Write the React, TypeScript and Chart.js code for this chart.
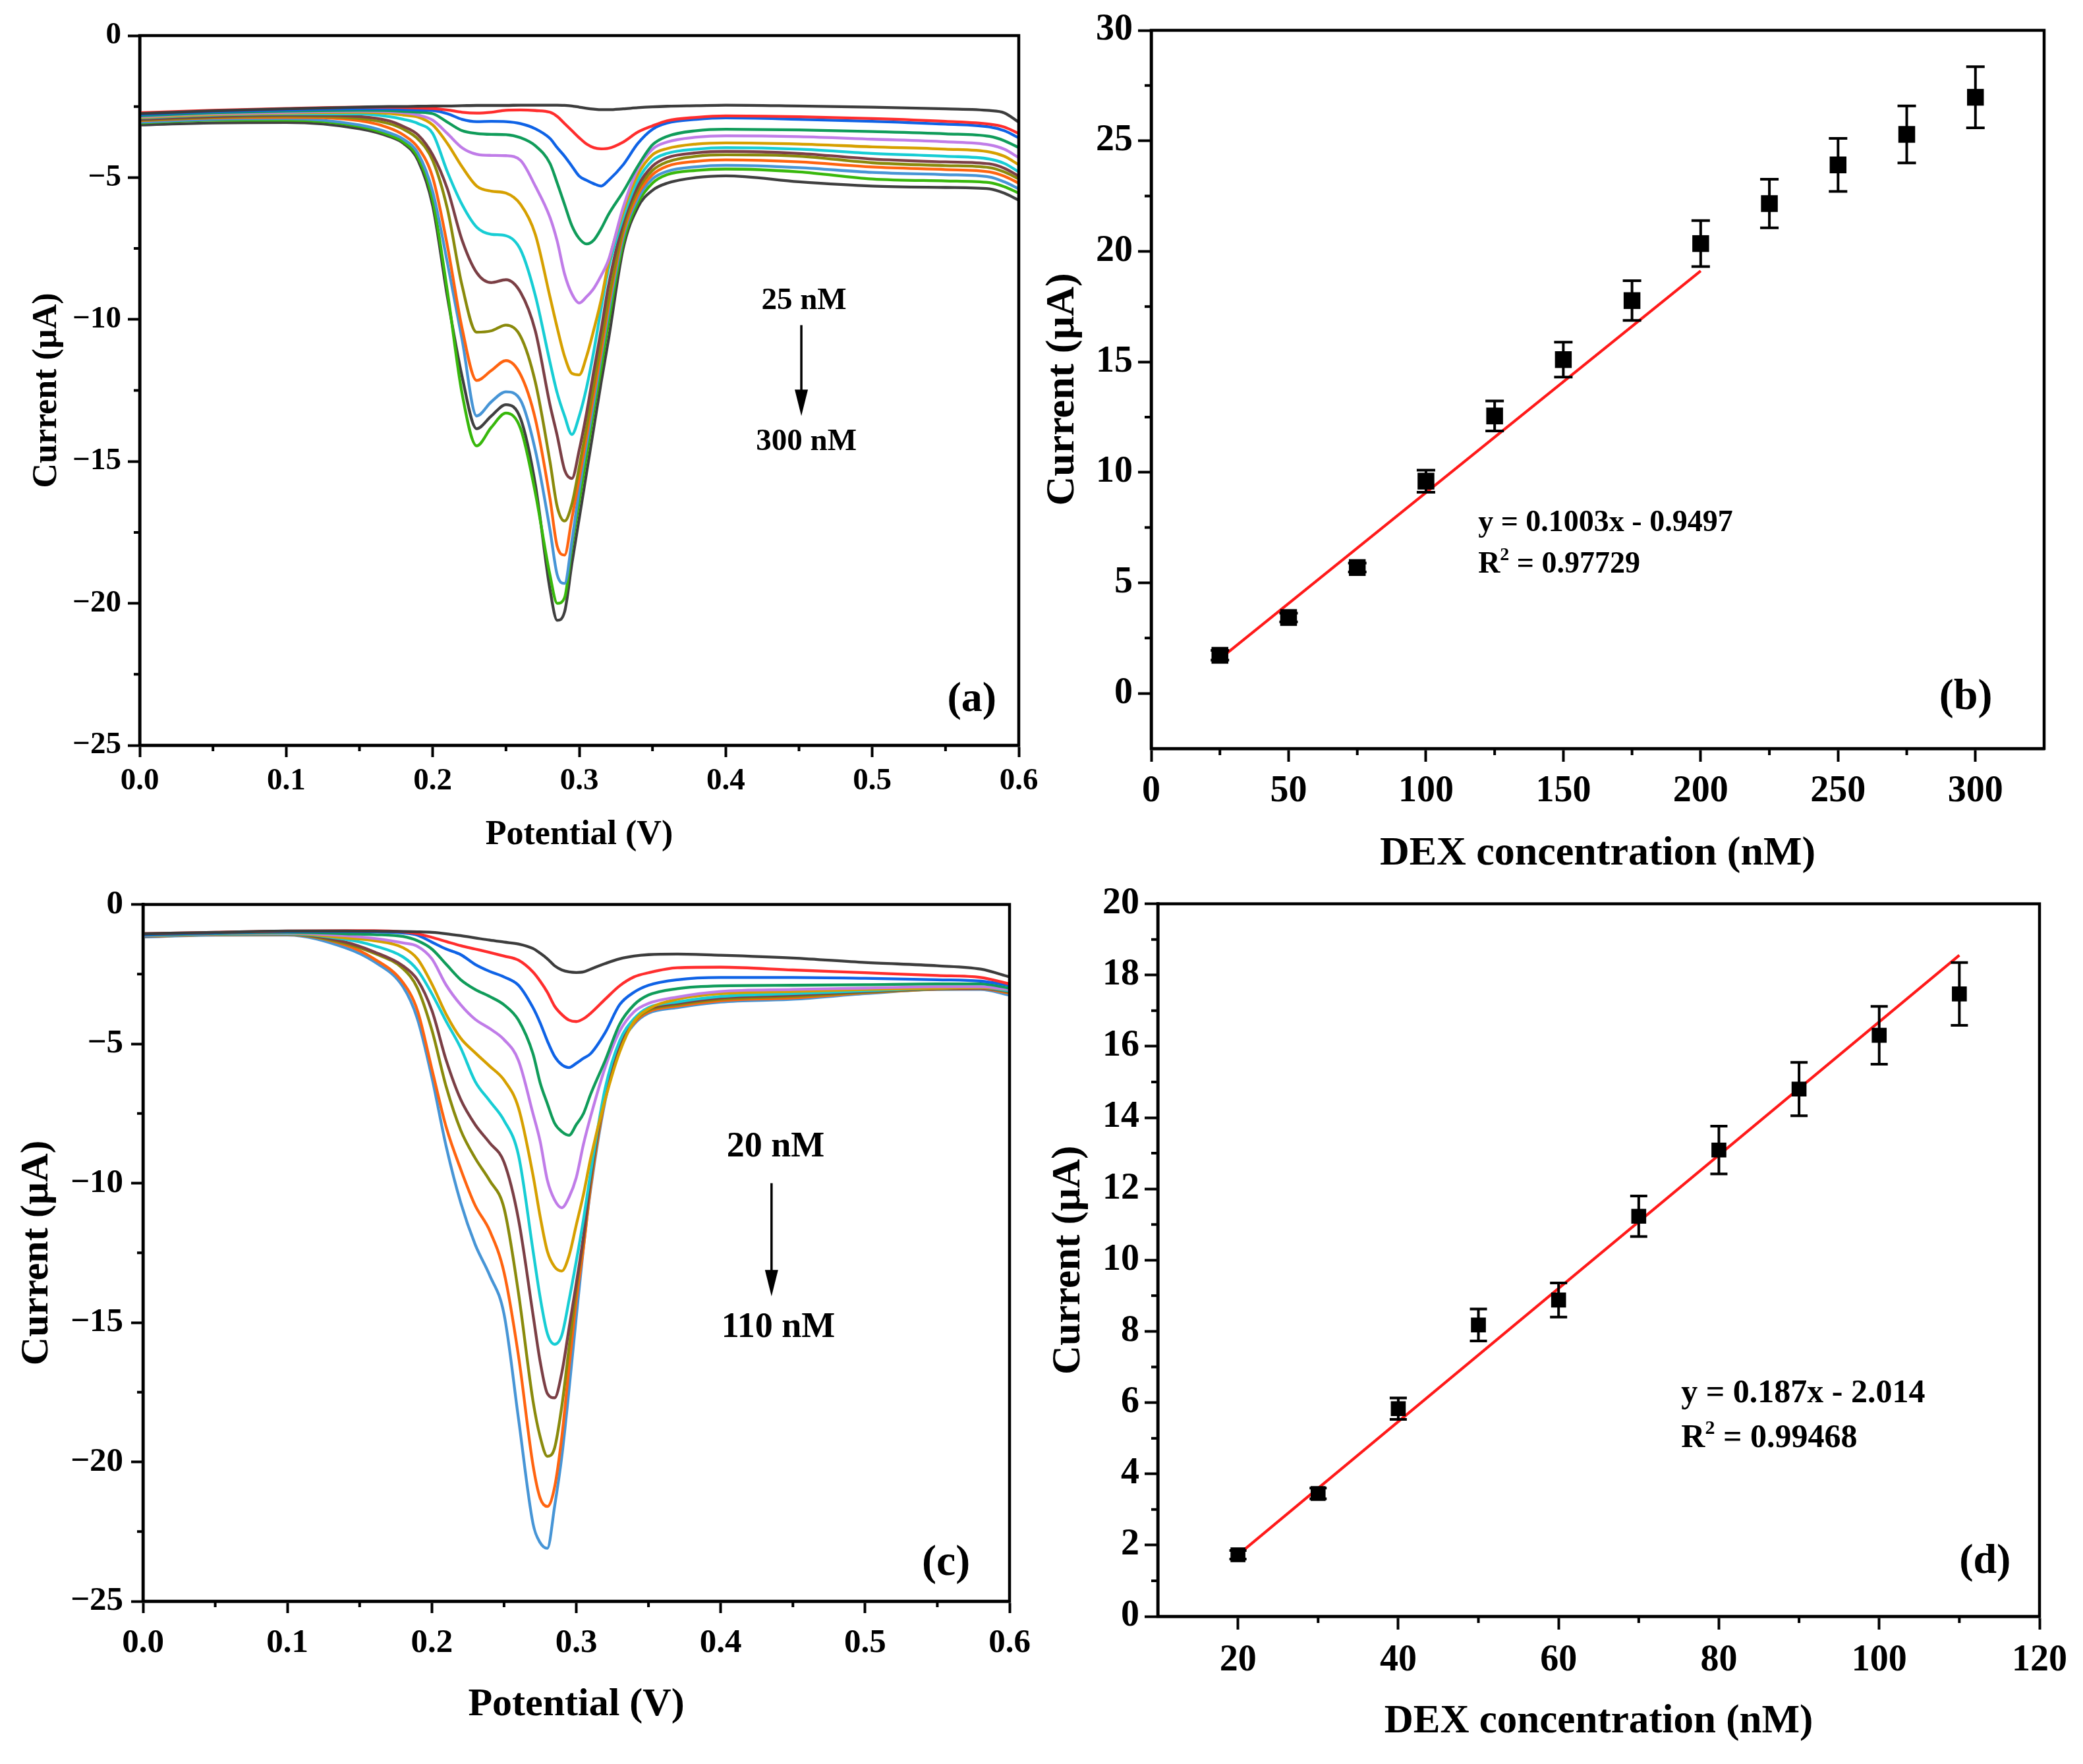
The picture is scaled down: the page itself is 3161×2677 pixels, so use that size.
import { useEffect, useRef } from 'react';
import { Chart, ChartConfiguration, registerables } from 'chart.js';

Chart.register(...registerables);

const SERIF = "'Liberation Serif', 'Times New Roman', Times, serif";

// ---------- (a) DPV curves, 25 -> 300 nM ----------
const A_POTENTIAL = [
  0, 0.05, 0.1, 0.15, 0.17, 0.18, 0.19, 0.2,
  0.21, 0.22, 0.23, 0.24, 0.25, 0.26, 0.27, 0.28,
  0.285, 0.29, 0.295, 0.3, 0.305, 0.31, 0.315, 0.32,
  0.33, 0.34, 0.35, 0.36, 0.38, 0.4,
  0.45, 0.5, 0.55, 0.58, 0.59, 0.6,
];
const A_BLANK = [
  -2.75, -2.65, -2.58, -2.52, -2.5, -2.5, -2.49, -2.48,
  -2.48, -2.47, -2.46, -2.46, -2.46, -2.45, -2.45, -2.45,
  -2.45, -2.46, -2.48, -2.52, -2.56, -2.59, -2.61, -2.61,
  -2.58, -2.54, -2.51, -2.49, -2.47, -2.45,
  -2.48, -2.52, -2.58, -2.64, -2.72, -3.05,
];
const A_25NM = [
  -2.72, -2.63, -2.57, -2.52, -2.52, -2.53, -2.55, -2.57,
  -2.62, -2.7, -2.73, -2.7, -2.63, -2.62, -2.64, -2.7,
  -2.85, -3.1, -3.35, -3.6, -3.82, -3.95, -3.99, -3.97,
  -3.75, -3.4, -3.18, -3.0, -2.88, -2.83,
  -2.86, -2.92, -3.02, -3.12, -3.22, -3.45,
];
const A_50NM = [
  -2.78, -2.68, -2.62, -2.58, -2.58, -2.6, -2.62, -2.64,
  -2.75, -2.95, -3.03, -3.02, -3.03, -3.1, -3.28, -3.62,
  -3.95, -4.25, -4.6, -4.95, -5.1, -5.22, -5.3, -5.1,
  -4.55, -3.8, -3.3, -3.08, -2.95, -2.9,
  -2.95, -3.02, -3.12, -3.22, -3.35, -3.6,
];
const A_75NM = [
  -2.82, -2.72, -2.66, -2.63, -2.64, -2.67, -2.7, -2.75,
  -3.05, -3.35, -3.45, -3.48, -3.49, -3.6, -3.88, -4.5,
  -5.2, -5.95, -6.7, -7.15, -7.34, -7.2, -6.8, -6.3,
  -5.5, -4.6, -3.85, -3.55, -3.35, -3.3,
  -3.32, -3.38, -3.46, -3.55, -3.7, -3.95,
];
const A_100NM = [
  -2.85, -2.75, -2.7, -2.66, -2.68, -2.72, -2.8, -2.98,
  -3.45, -3.95, -4.18, -4.22, -4.23, -4.4, -5.3, -6.4,
  -7.25, -8.4, -9.1, -9.42, -9.2, -8.9, -8.45, -7.9,
  -6.05, -4.7, -4.0, -3.75, -3.58, -3.53,
  -3.56, -3.65, -3.74, -3.85, -4.0, -4.3,
];
const A_125NM = [
  -2.88, -2.78, -2.73, -2.7, -2.74, -2.8, -2.87, -3.15,
  -3.8, -4.62, -5.3, -5.48, -5.55, -5.95, -7.0, -9.2,
  -10.3, -11.3, -11.9, -11.95, -11.3, -10.35, -9.3, -8.0,
  -6.2, -4.9, -4.2, -3.98, -3.82, -3.78,
  -3.82, -3.92, -4.0, -4.1, -4.25, -4.55,
];
const A_150NM = [
  -2.9, -2.8, -2.76, -2.76, -2.85, -2.95, -3.1, -3.45,
  -4.8, -5.95, -6.75, -7.0, -7.05, -7.55, -9.15, -11.5,
  -12.6, -13.4, -14.05, -13.4, -12.4, -11.1, -9.6, -8.2,
  -6.4, -5.1, -4.4, -4.15, -4.0, -3.95,
  -4.0, -4.15, -4.25, -4.35, -4.5, -4.8,
];
const A_175NM = [
  -2.95, -2.85, -2.8, -2.85, -3.0, -3.2, -3.5, -4.2,
  -5.4, -7.2, -8.35, -8.7, -8.6, -9.05, -10.4, -13.0,
  -14.1, -15.3, -15.6, -14.6, -13.3, -11.8, -10.35, -8.8,
  -6.6, -5.3, -4.6, -4.3, -4.13, -4.08,
  -4.15, -4.35, -4.45, -4.52, -4.67, -4.95,
];
const A_200NM = [
  -2.98, -2.88, -2.84, -2.92, -3.1, -3.3, -3.65, -4.4,
  -6.1, -8.8, -10.45, -10.4, -10.2, -10.6, -12.2, -15.0,
  -16.6, -17.1, -16.5, -15.2, -13.8, -12.3, -10.8, -9.3,
  -6.8, -5.45, -4.75, -4.45, -4.25, -4.2,
  -4.25, -4.48, -4.58, -4.65, -4.8, -5.05,
];
const A_225NM = [
  -3.0, -2.9, -2.88, -3.0, -3.25, -3.5, -3.95, -5.0,
  -7.4, -10.3, -12.15, -11.8, -11.45, -11.95, -13.5, -16.3,
  -18.0, -18.3, -17.0, -15.6, -14.1, -12.6, -11.1, -9.5,
  -6.95, -5.6, -4.9, -4.6, -4.43, -4.38,
  -4.45, -4.63, -4.72, -4.8, -4.95, -5.2,
];
const A_250NM = [
  -3.05, -2.95, -2.93, -3.15, -3.42, -3.65, -4.15, -5.5,
  -8.0, -10.7, -13.4, -12.9, -12.55, -12.85, -14.6, -17.4,
  -19.0, -19.3, -17.8, -16.0, -14.4, -12.9, -11.3, -9.75,
  -7.1, -5.75, -5.05, -4.78, -4.62, -4.57,
  -4.65, -4.82, -4.9, -4.98, -5.15, -5.4,
];
const A_275NM = [
  -3.08, -2.98, -2.98, -3.2, -3.5, -3.75, -4.3, -5.8,
  -9.0, -12.6, -14.45, -13.8, -13.3, -13.85, -16.1, -19.0,
  -20.0, -19.8, -18.0, -16.4, -14.8, -13.2, -11.7, -10.1,
  -7.3, -5.9, -5.2, -4.9, -4.75, -4.7,
  -4.8, -5.05, -5.12, -5.18, -5.32, -5.55,
];
const A_300NM = [
  -3.15, -3.08, -3.06, -3.28, -3.55, -3.8, -4.4, -6.0,
  -9.2, -12.0, -13.85, -13.4, -13.0, -13.5, -15.8, -19.5,
  -20.6, -20.3, -18.6, -17.0, -15.4, -13.8, -12.2, -10.7,
  -7.5, -6.05, -5.45, -5.2, -5.0, -4.94,
  -5.15, -5.3, -5.35, -5.4, -5.55, -5.8,
];

// ---------- (b) calibration 25 -> 300 nM ----------
const B_CONC = [25, 50, 75, 100, 125, 150, 175, 200, 225, 250, 275, 300];
const B_CURRENT = [1.72, 3.43, 5.69, 9.6, 12.55, 15.1, 17.77, 20.35, 22.16, 23.91, 25.29, 26.97];
const B_ERROR = [0.22, 0.2, 0.2, 0.5, 0.68, 0.79, 0.9, 1.04, 1.1, 1.2, 1.29, 1.38];
const B_FIT_RANGE = [25, 200];
const B_FIT_COEF = [0.1003, -0.9497];

// ---------- (c) DPV curves, 20 -> 110 nM ----------
const C_POTENTIAL = [
  0, 0.05, 0.1, 0.14, 0.16, 0.18, 0.19, 0.2,
  0.21, 0.22, 0.23, 0.24, 0.25, 0.26, 0.27, 0.275,
  0.28, 0.285, 0.29, 0.295, 0.3, 0.305, 0.31, 0.32,
  0.33, 0.34, 0.35, 0.37, 0.4, 0.45,
  0.5, 0.55, 0.58, 0.6,
];
const C_BLANK = [
  -1.05, -1.0, -0.95, -0.95, -0.96, -0.97, -0.98, -1.0,
  -1.05, -1.12, -1.2, -1.28, -1.35, -1.42, -1.58, -1.75,
  -1.95, -2.2, -2.35, -2.42, -2.44, -2.42, -2.32, -2.12,
  -1.95, -1.85, -1.8, -1.78, -1.82, -1.92,
  -2.08, -2.2, -2.32, -2.6,
];
const C_20NM = [
  -1.05, -1.0, -0.95, -0.94, -0.94, -0.98, -1.05, -1.18,
  -1.33, -1.48, -1.6, -1.72, -1.85, -2.0, -2.42, -2.75,
  -3.15, -3.65, -3.95, -4.15, -4.2, -4.1, -3.9, -3.4,
  -2.92, -2.6, -2.45, -2.27, -2.25, -2.35,
  -2.45, -2.55, -2.62, -2.85,
];
const C_30NM = [
  -1.08, -1.02, -0.97, -0.97, -0.98, -1.02, -1.1, -1.35,
  -1.6, -1.8, -2.15, -2.4, -2.6, -2.9, -3.7, -4.25,
  -4.9, -5.45, -5.75, -5.85, -5.7, -5.52, -5.35, -4.6,
  -3.6, -3.15, -2.9, -2.7, -2.62, -2.62,
  -2.65, -2.7, -2.75, -2.9,
];
const C_40NM = [
  -1.1, -1.04, -1.0, -1.05, -1.08, -1.15, -1.3, -1.6,
  -2.15, -2.7, -3.05, -3.3, -3.6, -4.15, -5.35, -6.4,
  -7.15, -7.85, -8.15, -8.28, -7.9, -7.5, -6.8, -5.6,
  -4.3, -3.6, -3.25, -3.02, -2.92, -2.9,
  -2.88, -2.85, -2.85, -3.0,
];
const C_50NM = [
  -1.12, -1.05, -1.02, -1.12, -1.22, -1.38, -1.5, -1.95,
  -2.9, -3.6, -4.12, -4.45, -4.85, -5.6, -7.5, -8.5,
  -9.9, -10.6, -10.88, -10.5, -9.8, -8.6, -7.6, -5.85,
  -4.55, -3.85, -3.55, -3.32, -3.12, -3.05,
  -3.0, -2.95, -2.95, -3.05,
];
const C_60NM = [
  -1.12, -1.06, -1.03, -1.2, -1.3, -1.55, -1.95, -2.85,
  -3.95, -4.8, -5.32, -5.8, -6.3, -7.3, -9.7, -11.2,
  -12.45, -13.0, -13.15, -12.6, -11.5, -10.4, -9.1, -7.0,
  -5.3, -4.2, -3.75, -3.4, -3.2, -3.12,
  -3.05, -3.0, -2.98, -3.05,
];
const C_70NM = [
  -1.13, -1.07, -1.05, -1.25, -1.48, -1.88, -2.35, -3.2,
  -4.2, -5.15, -6.35, -7.05, -7.75, -9.0, -12.4, -14.1,
  -15.4, -15.78, -15.45, -14.2, -12.8, -11.3, -9.6, -6.6,
  -4.9, -4.1, -3.7, -3.5, -3.3, -3.2,
  -3.1, -3.0, -2.98, -3.1,
];
const C_80NM = [
  -1.14, -1.08, -1.06, -1.35, -1.7, -2.2, -2.7, -3.8,
  -5.6, -7.0, -7.9, -8.55, -9.25, -11.3, -14.7, -16.4,
  -17.55, -17.7, -16.8, -15.2, -13.6, -11.9, -9.8, -6.75,
  -5.0, -4.15, -3.75, -3.55, -3.35, -3.25,
  -3.12, -3.02, -3.0, -3.12,
];
const C_90NM = [
  -1.14, -1.08, -1.07, -1.4, -1.75, -2.3, -3.0, -4.5,
  -6.55, -8.1, -9.1, -9.9, -10.9, -13.95, -17.8, -19.1,
  -19.8, -19.5, -18.0, -15.9, -13.8, -12.0, -9.9, -6.85,
  -5.05, -4.2, -3.8, -3.6, -3.4, -3.3,
  -3.15, -3.03, -3.0, -3.15,
];
const C_100NM = [
  -1.15, -1.09, -1.08, -1.45, -1.95, -2.8, -3.8, -5.9,
  -8.0, -9.5, -10.8, -11.7, -13.2, -16.2, -20.1, -21.3,
  -21.6, -20.9, -19.1, -16.6, -14.2, -12.3, -10.1, -6.95,
  -5.1, -4.25, -3.85, -3.65, -3.45, -3.35,
  -3.17, -3.04, -3.02, -3.18,
];
const C_110NM = [
  -1.17, -1.1, -1.1, -1.55, -2.05, -2.95, -4.1, -6.2,
  -8.7, -10.7, -12.2, -13.3, -14.7, -18.45, -22.2, -22.9,
  -23.1, -21.6, -19.8, -17.4, -14.8, -12.3, -10.2, -7.05,
  -5.15, -4.3, -3.9, -3.7, -3.5, -3.4,
  -3.2, -3.05, -3.05, -3.25,
];

// ---------- (d) calibration 20 -> 110 nM ----------
const D_CONC = [20, 30, 40, 50, 60, 70, 80, 90, 100, 110];
const D_CURRENT = [1.73, 3.45, 5.83, 8.18, 8.88, 11.23, 13.09, 14.8, 16.31, 17.47];
const D_ERROR = [0.12, 0.15, 0.3, 0.45, 0.48, 0.57, 0.67, 0.75, 0.81, 0.88];
const D_FIT_RANGE = [20, 110];
const D_FIT_COEF = [0.187, -2.014];

// Origin-like default palette, blank first
const CURVE_COLORS = [
  '#3c3c3c', '#ff2d2d', '#0f63e6', '#109c5a', '#c07ce8', '#d6a000', '#17cdd4',
  '#7b3f45', '#8a8a0c', '#ff6410', '#4795d6', '#38b80c', '#404040',
];

const A_SERIES = [A_BLANK, A_25NM, A_50NM, A_75NM, A_100NM, A_125NM, A_150NM, A_175NM, A_200NM, A_225NM, A_250NM, A_275NM, A_300NM];
const C_SERIES = [C_BLANK, C_20NM, C_30NM, C_40NM, C_50NM, C_60NM, C_70NM, C_80NM, C_90NM, C_100NM, C_110NM];

const fontOf = (size: number) => ({ family: SERIF, size, weight: 'bold' as const });
const fmtVolt = (v: number) => v.toFixed(1);
const fmtNeg = (v: number) => (Math.abs(v) < 1e-9 ? '0' : v < 0 ? '\u2212' + Math.abs(v) : String(v));
const fmtInt = (v: number) => String(Math.round(v));

type AxisSpec = {
  min: number; max: number; step: number; title: string;
  tickSize: number; titleSize: number; tickLen: number; tickPad: number; titlePad: number;
  fmt: (v: number) => string; fit: (s: any) => void;
};

function axis(a: AxisSpec): any {
  return {
    type: 'linear',
    min: a.min,
    max: a.max,
    ticks: {
      stepSize: a.step, includeBounds: false, autoSkip: false, maxRotation: 0,
      padding: a.tickPad, color: '#000', font: fontOf(a.tickSize),
      callback: (v: any) => a.fmt(Number(v)),
    },
    grid: {
      display: true, drawOnChartArea: false, drawTicks: true,
      tickLength: a.tickLen, tickWidth: 4, tickColor: '#000', color: '#000',
    },
    border: { display: true, color: '#000', width: 4.5 },
    title: {
      display: true, text: a.title, color: '#000', font: fontOf(a.titleSize),
      padding: { top: a.titlePad, bottom: a.titlePad },
    },
    afterFit: a.fit,
  };
}

type Note = { text: string; x: number; y: number; size: number; align: 'left' | 'center'; sup?: string; rest?: string };
type Arrow = { x: number; from: number; to: number };

// frame, minor ticks, error bars and in-plot text
function decor(minorX: number, minorY: number, minorLen: number, notes: Note[], arrow?: Arrow, cap = 14) {
  return {
    id: 'decor',
    afterDatasetsDraw(chart: any) {
      const { ctx } = chart;
      const xs = chart.scales.x;
      const ys = chart.scales.y;
      chart.data.datasets.forEach((ds: any) => {
        if (!ds.errors) return;
        ctx.save();
        ctx.strokeStyle = '#000';
        ctx.lineWidth = 4;
        ds.data.forEach((p: any, i: number) => {
          const px = xs.getPixelForValue(p.x);
          const top = ys.getPixelForValue(p.y + ds.errors[i]);
          const bot = ys.getPixelForValue(p.y - ds.errors[i]);
          ctx.beginPath();
          ctx.moveTo(px, top); ctx.lineTo(px, bot);
          ctx.moveTo(px - cap, top); ctx.lineTo(px + cap, top);
          ctx.moveTo(px - cap, bot); ctx.lineTo(px + cap, bot);
          ctx.stroke();
        });
        ctx.restore();
      });
    },
    afterDraw(chart: any) {
      const { ctx, chartArea: area } = chart;
      const xs = chart.scales.x;
      const ys = chart.scales.y;
      ctx.save();
      ctx.strokeStyle = '#000';
      ctx.lineWidth = 4.5;
      ctx.strokeRect(area.left, area.top, area.right - area.left, area.bottom - area.top);

      const minors = (scale: any, step: number) => {
        const out: number[] = [];
        const majors = scale.ticks.map((t: any) => t.value);
        const n = Math.round((scale.max - scale.min) / step);
        for (let k = 1; k < n; k++) {
          const v = scale.min + k * step;
          if (!majors.some((m: number) => Math.abs(m - v) < step * 1e-3)) out.push(v);
        }
        return out;
      };
      ctx.lineWidth = 4;
      ctx.beginPath();
      minors(xs, minorX).forEach((v) => {
        const px = xs.getPixelForValue(v);
        ctx.moveTo(px, area.bottom);
        ctx.lineTo(px, area.bottom + minorLen);
      });
      minors(ys, minorY).forEach((v) => {
        const py = ys.getPixelForValue(v);
        ctx.moveTo(area.left, py);
        ctx.lineTo(area.left - minorLen, py);
      });
      ctx.stroke();

      if (arrow) {
        const ax = xs.getPixelForValue(arrow.x);
        const y1 = ys.getPixelForValue(arrow.from);
        const y2 = ys.getPixelForValue(arrow.to);
        const head = 40;
        ctx.lineWidth = 3.5;
        ctx.beginPath();
        ctx.moveTo(ax, y1);
        ctx.lineTo(ax, y2 - head + 4);
        ctx.stroke();
        ctx.fillStyle = '#000';
        ctx.beginPath();
        ctx.moveTo(ax, y2);
        ctx.lineTo(ax - 10, y2 - head);
        ctx.lineTo(ax + 10, y2 - head);
        ctx.closePath();
        ctx.fill();
      }

      ctx.fillStyle = '#000';
      ctx.textBaseline = 'middle';
      notes.forEach((n) => {
        const px = xs.getPixelForValue(n.x);
        const py = ys.getPixelForValue(n.y);
        ctx.font = `bold ${n.size}px ${SERIF}`;
        ctx.textAlign = n.align;
        if (!n.sup) {
          ctx.fillText(n.text, px, py);
          return;
        }
        ctx.textAlign = 'left';
        ctx.fillText(n.text, px, py);
        let cx = px + ctx.measureText(n.text).width;
        const small = Math.round(n.size * 0.6);
        ctx.font = `bold ${small}px ${SERIF}`;
        ctx.fillText(n.sup, cx, py - n.size * 0.3);
        cx += ctx.measureText(n.sup).width;
        ctx.font = `bold ${n.size}px ${SERIF}`;
        ctx.fillText(n.rest ?? '', cx, py);
      });
      ctx.restore();
    },
  };
}

const baseOptions = (padTop: number, padRight: number) => ({
  responsive: true,
  maintainAspectRatio: false,
  animation: false as const,
  events: [] as any[],
  layout: { padding: { left: 0, top: padTop, right: padRight, bottom: 0 } },
  plugins: { legend: { display: false }, tooltip: { enabled: false } },
});

function curveSets(series: number[][], potential: number[]) {
  return series.map((vals, i) => ({
    data: vals.map((y, k) => ({ x: potential[k], y })),
    borderColor: CURVE_COLORS[i],
    borderWidth: 4.3,
    pointRadius: 0,
    fill: false,
    cubicInterpolationMode: 'monotone' as const,
  }));
}

function calibrationSets(conc: number[], current: number[], err: number[], range: number[], coef: number[], size: number) {
  return [
    {
      type: 'scatter' as const,
      data: conc.map((x, i) => ({ x, y: current[i] })),
      errors: err,
      pointStyle: 'rect' as const,
      pointRadius: size,
      backgroundColor: '#000',
      borderWidth: 0,
    },
    {
      type: 'line' as const,
      data: range.map((x) => ({ x, y: coef[0] * x + coef[1] })),
      borderColor: '#ff1a1a',
      borderWidth: 4.2,
      pointRadius: 0,
      fill: false,
    },
  ];
}

function buildA(): ChartConfiguration {
  return {
    type: 'line',
    data: { datasets: curveSets(A_SERIES, A_POTENTIAL) as any },
    options: {
      ...baseOptions(54, 74),
      scales: {
        x: axis({ min: 0, max: 0.6, step: 0.1, title: 'Potential (V)', tickSize: 47, titleSize: 52, tickLen: 18, tickPad: 9, titlePad: 21, fmt: fmtVolt, fit: (s) => { s.height = 189; } }),
        y: axis({ min: -25, max: 0, step: 5, title: 'Current (\u00b5A)', tickSize: 47, titleSize: 52, tickLen: 18, tickPad: 10, titlePad: 40, fmt: fmtNeg, fit: (s) => { s.width = 212; } }),
      },
    } as any,
    plugins: [decor(0.05, 2.5, 9, [
      { text: '25 nM', x: 0.4534, y: -9.35, size: 47, align: 'center' },
      { text: '300 nM', x: 0.455, y: -14.32, size: 47, align: 'center' },
      { text: '(a)', x: 0.568, y: -23.4, size: 64, align: 'center' },
    ], { x: 0.4516, from: -10.2, to: -13.4 })],
  };
}

function buildB(): ChartConfiguration {
  return {
    type: 'scatter',
    data: { datasets: calibrationSets(B_CONC, B_CURRENT, B_ERROR, B_FIT_RANGE, B_FIT_COEF, 18) as any },
    options: {
      ...baseOptions(46, 59),
      scales: {
        x: axis({ min: 0, max: 325, step: 50, title: 'DEX concentration (nM)', tickSize: 56, titleSize: 62, tickLen: 20, tickPad: 12, titlePad: 27, fmt: fmtInt, fit: (s) => { s.height = 224; } }),
        y: axis({ min: -2.5, max: 30, step: 5, title: 'Current (\u00b5A)', tickSize: 56, titleSize: 62, tickLen: 20, tickPad: 8, titlePad: 16, fmt: fmtInt, fit: (s) => { s.width = 187; } }),
      },
    } as any,
    plugins: [decor(25, 2.5, 10, [
      { text: 'y = 0.1003x - 0.9497', x: 119, y: 7.7, size: 46, align: 'left' },
      { text: 'R', sup: '2', rest: ' = 0.97729', x: 119, y: 5.82, size: 46, align: 'left' },
      { text: '(b)', x: 296.5, y: -0.2, size: 66, align: 'center' },
    ], undefined, 14)],
  };
}

function buildC(): ChartConfiguration {
  return {
    type: 'line',
    data: { datasets: curveSets(C_SERIES, C_POTENTIAL) as any },
    options: {
      ...baseOptions(40, 88),
      scales: {
        x: axis({ min: 0, max: 0.6, step: 0.1, title: 'Potential (V)', tickSize: 51, titleSize: 60, tickLen: 18, tickPad: 15, titlePad: 54, fmt: fmtVolt, fit: (s) => { s.height = 247; } }),
        y: axis({ min: -25, max: 0, step: 5, title: 'Current (\u00b5A)', tickSize: 51, titleSize: 60, tickLen: 18, tickPad: 12, titlePad: 20, fmt: fmtNeg, fit: (s) => { s.width = 217; } }),
      },
    } as any,
    plugins: [decor(0.05, 2.5, 9, [
      { text: '20 nM', x: 0.438, y: -8.7, size: 54, align: 'center' },
      { text: '110 nM', x: 0.4398, y: -15.2, size: 54, align: 'center' },
      { text: '(c)', x: 0.556, y: -23.66, size: 66, align: 'center' },
    ], { x: 0.4352, from: -10.0, to: -14.06 })],
  };
}

function buildD(): ChartConfiguration {
  return {
    type: 'scatter',
    data: { datasets: calibrationSets(D_CONC, D_CURRENT, D_ERROR, D_FIT_RANGE, D_FIT_COEF, 16) as any },
    options: {
      ...baseOptions(41, 66),
      scales: {
        x: axis({ min: 10, max: 120, step: 20, title: 'DEX concentration (nM)', tickSize: 56, titleSize: 61, tickLen: 20, tickPad: 14, titlePad: 27, fmt: fmtInt, fit: (s) => { s.height = 224; } }),
        y: axis({ min: 0, max: 20, step: 2, title: 'Current (\u00b5A)', tickSize: 56, titleSize: 61, tickLen: 20, tickPad: 8, titlePad: 26, fmt: fmtInt, fit: (s) => { s.width = 197; } }),
      },
    } as any,
    plugins: [decor(10, 1, 10, [
      { text: 'y = 0.187x - 2.014', x: 75.3, y: 6.25, size: 50, align: 'left' },
      { text: 'R', sup: '2', rest: ' = 0.99468', x: 75.3, y: 4.99, size: 50, align: 'left' },
      { text: '(d)', x: 113.2, y: 1.52, size: 64, align: 'center' },
    ], undefined, 13)],
  };
}

type Box = { left: number; top: number; width: number; height: number };

function Panel({ box, build }: { box: Box; build: () => ChartConfiguration }) {
  const canvasRef = useRef<HTMLCanvasElement>(null);

  useEffect(() => {
    if (!canvasRef.current) return;
    const chart = new Chart(canvasRef.current, build());
    return () => {
      chart.destroy();
    };
  }, [build]);

  return (
    <div style={{ position: 'absolute', left: box.left, top: box.top, width: box.width, height: box.height }}>
      <canvas ref={canvasRef} />
    </div>
  );
}

export default function App() {
  return (
    <div style={{ position: 'absolute', left: 0, top: 0, width: 3161, height: 2677, background: '#fff' }}>
      <Panel box={{ left: 0, top: 0, width: 1620, height: 1320 }} build={buildA} />
      <Panel box={{ left: 1560, top: 0, width: 1601, height: 1360 }} build={buildB} />
      <Panel box={{ left: 0, top: 1330, width: 1620, height: 1347 }} build={buildC} />
      <Panel box={{ left: 1560, top: 1330, width: 1601, height: 1347 }} build={buildD} />
    </div>
  );
}
